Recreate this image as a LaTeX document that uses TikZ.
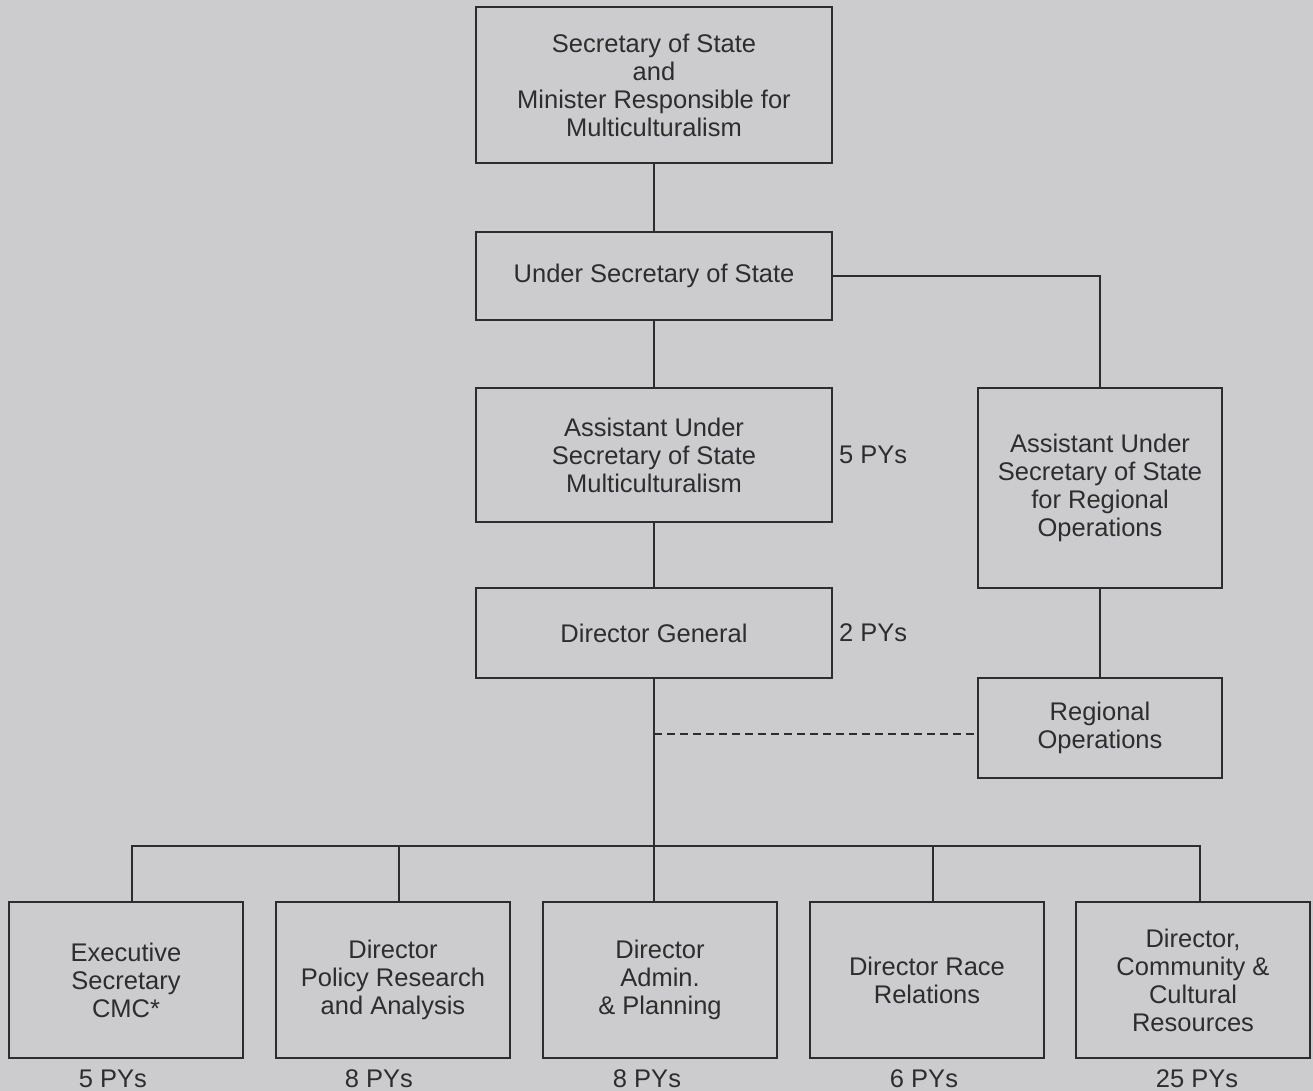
\documentclass[tikz,border=0pt]{standalone}
\usepackage{fontspec}
\setmainfont{Liberation Sans}
\usetikzlibrary{positioning}
\definecolor{paper}{RGB}{204,204,206}
\definecolor{ink}{RGB}{45,45,45}
\tikzset{
  unit/.style={draw=ink, line width=1.8pt, align=center, text=ink, inner sep=0pt, font=\fontsize{25.5}{28}\selectfont},
  wide/.style={unit, minimum width=356pt},
  side/.style={unit, minimum width=244pt},
  branch/.style={unit, minimum width=234pt, minimum height=156pt},
  py/.style={text=ink, inner sep=0pt, font=\fontsize{25.5}{28}\selectfont},
  link/.style={draw=ink, line width=1.8pt},
}
\begin{document}
\begin{tikzpicture}[x=1pt, y=-1pt]
\fill[paper] (0,0) rectangle (1313,1091);
\useasboundingbox (0,0) rectangle (1313,1091);
% main line
\node[wide, minimum height=156pt] at (654,85) (minister) {Secretary of State\\and\\Minister Responsible for\\Multiculturalism};
\node[wide, minimum height=88pt] at (654,276) (under) {Under Secretary of State};
\node[wide, minimum height=134pt] at (654,455) (aumult) {Assistant Under\\Secretary of State\\Multiculturalism};
\node[wide, minimum height=90pt] at (654,633) (dg) {Director General};
\node[py, anchor=west] at ([xshift=6pt]aumult.east) (aumultpy) {5 PYs};
\node[py, anchor=west] at ([xshift=6pt]dg.east) (dgpy) {2 PYs};
% regional side
\node[side, minimum height=200pt] at (1100,488) (aureg) {Assistant Under\\Secretary of State\\for Regional\\Operations};
\node[side, minimum height=100pt] at (1100,728) (regops) {Regional\\Operations};
% branches
\node[branch] at (126,980) (execsec) {Executive\\Secretary\\CMC*};
\node[branch] at (393,980) (policy) {Director\\Policy Research\\and Analysis};
\node[branch] at (660,980) (admin) {Director\\Admin.\\\& Planning};
\node[branch] at (927,980) (race) {Director Race\\Relations};
\node[branch] at (1193,980) (community) {Director,\\Community \&\\Cultural\\Resources};
\node[py, below=11pt of execsec, xshift=-13pt] (execsecpy) {5 PYs};
\node[py, below=11pt of policy, xshift=-14pt] (policypy) {8 PYs};
\node[py, below=11pt of admin, xshift=-13pt] (adminpy) {8 PYs};
\node[py, below=11pt of race, xshift=-3pt] (racepy) {6 PYs};
\node[py, below=11pt of community, xshift=4pt] (communitypy) {25 PYs};
% connectors
\draw[link] (minister) -- (under);
\draw[link] (under) -- (aumult);
\draw[link] (aumult) -- (dg);
\draw[link] (under.east) -| (aureg.north);
\draw[link] (aureg) -- (regops);
\coordinate (bus) at (0,846);
\coordinate (dashfrom) at (654,734);
\draw[link] (dg.south) -- (dg.south |- admin.north);
\draw[link] ([xshift=6pt]execsec.north) -- ([xshift=6pt]execsec.north |- bus) -- ([xshift=7pt]community.north |- bus) -- ([xshift=7pt]community.north);
\draw[link] ([xshift=6pt]policy.north) -- ([xshift=6pt]policy.north |- bus);
\draw[link] ([xshift=6pt]race.north) -- ([xshift=6pt]race.north |- bus);
\draw[link, line width=1.5pt, dash pattern=on 8pt off 5pt] (dashfrom) -- (dashfrom -| regops.west);
\end{tikzpicture}
\end{document}
